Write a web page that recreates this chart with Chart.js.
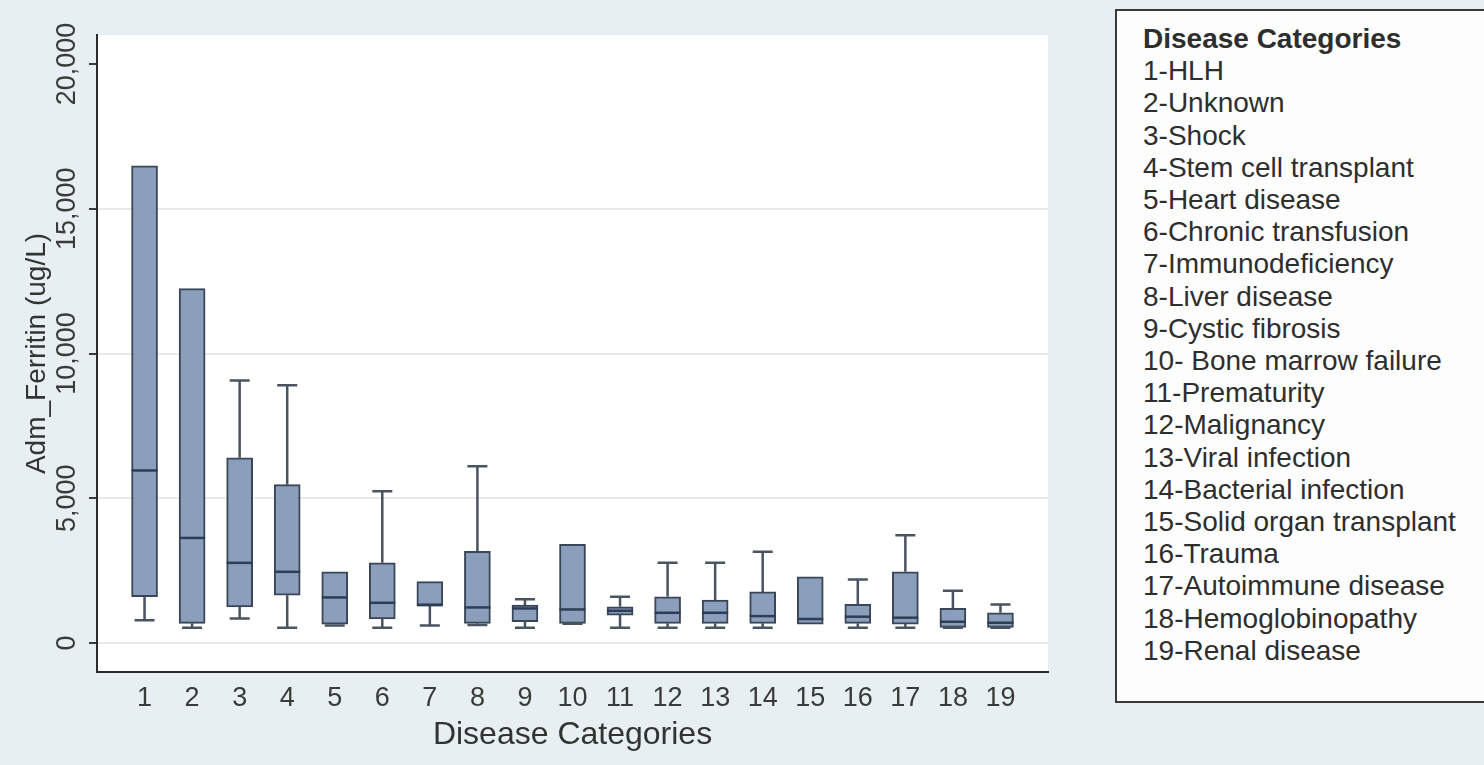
<!DOCTYPE html>
<html>
<head>
<meta charset="utf-8">
<script src="https://cdn.jsdelivr.net/npm/chart.js@4.4.1/dist/chart.umd.min.js"></script>
<style>
  html, body { margin: 0; padding: 0; width: 1484px; height: 765px; overflow: hidden; background: #e8eff2; font-family: "Liberation Sans", Arial, sans-serif; }
  #wrap { position: absolute; left: 0; top: 0; width: 1100px; height: 765px; }
  #legend { position: absolute; left: 1115px; top: 9px; width: 420px; height: 694px; box-sizing: border-box; border: 2px solid #3a3a3a; background: #fdfdfd; color: #2e2e2e; font-size: 28px; line-height: 32.2px; padding: 12px 0 0 26px; white-space: nowrap; }
  #legend .ttl { font-weight: bold; }
</style>
</head>
<body>
<div id="wrap"><canvas id="ferritinChart" width="1100" height="765"></canvas></div>
<div id="legend"></div>
<script>
// disease categories 1..19 and their names
const categories = [1, 2, 3, 4, 5, 6, 7, 8, 9, 10, 11, 12, 13, 14, 15, 16, 17, 18, 19];
const categoryNames = [
  '1-HLH', '2-Unknown', '3-Shock', '4-Stem cell transplant', '5-Heart disease',
  '6-Chronic transfusion', '7-Immunodeficiency', '8-Liver disease', '9-Cystic fibrosis',
  '10- Bone marrow failure', '11-Prematurity', '12-Malignancy', '13-Viral infection',
  '14-Bacterial infection', '15-Solid organ transplant', '16-Trauma',
  '17-Autoimmune disease', '18-Hemoglobinopathy', '19-Renal disease'
];

// admission ferritin (ug/L) box plot summaries
const lowerWhisker = [790, 530, 850, 530, 610, 530, 610, 620, 530, 670, 530, 530, 530, 530, 655, 530, 530, 530, 530];
const quartile1    = [1600, 680, 1250, 1655, 650, 830, 1310, 680, 740, 680, 965, 680, 680, 680, 655, 680, 655, 540, 540];
const medians      = [5960, 3630, 2770, 2460, 1575, 1390, 1310, 1230, 1195, 1160, 1115, 1045, 1045, 930, 830, 910, 875, 735, 700];
const quartile3    = [16480, 12240, 6400, 5470, 2460, 2770, 2120, 3170, 1310, 3410, 1250, 1600, 1485, 1765, 2290, 1340, 2460, 1195, 1045];
const upperWhisker = [16480, 12240, 9070, 8900, 2460, 5240, 2120, 6110, 1515, 3410, 1595, 2770, 2770, 3150, 2290, 2195, 3725, 1805, 1335];

const yTicks = [0, 5000, 10000, 15000, 20000];

const FONT = '"Liberation Sans", Arial, sans-serif';
Chart.defaults.font.family = FONT;

// legend list on the right
const legendEl = document.getElementById('legend');
legendEl.innerHTML = '<div class="ttl">Disease Categories</div>' +
  categoryNames.map(n => '<div>' + n + '</div>').join('');

// white plot region on the blue-grey graph region
const plotBg = {
  id: 'plotBg',
  beforeDraw(chart) {
    const { ctx, chartArea: a } = chart;
    ctx.save();
    ctx.fillStyle = '#ffffff';
    ctx.fillRect(a.left, a.top, a.right - a.left, a.bottom - a.top);
    ctx.restore();
  }
};

// whiskers, caps and median lines on top of the floating boxes
const boxPlot = {
  id: 'boxPlot',
  afterDatasetsDraw(chart) {
    const { ctx, scales: { x, y } } = chart;
    const meta = chart.getDatasetMeta(0);
    ctx.save();
    meta.data.forEach((bar, i) => {
      const cx = x.getPixelForValue(categories[i]);
      const half = bar.width / 2;
      const cap = 10;
      const yHi = y.getPixelForValue(upperWhisker[i]);
      const yQ3 = y.getPixelForValue(quartile3[i]);
      const yQ1 = y.getPixelForValue(quartile1[i]);
      const yLo = y.getPixelForValue(lowerWhisker[i]);
      const yMed = y.getPixelForValue(medians[i]);

      ctx.strokeStyle = '#4a5360';
      ctx.lineWidth = 2.5;
      if (upperWhisker[i] > quartile3[i]) {
        ctx.beginPath();
        ctx.moveTo(cx, yQ3); ctx.lineTo(cx, yHi);
        ctx.moveTo(cx - cap, yHi); ctx.lineTo(cx + cap, yHi);
        ctx.stroke();
      }
      if (lowerWhisker[i] < quartile1[i]) {
        ctx.beginPath();
        ctx.moveTo(cx, yQ1); ctx.lineTo(cx, yLo);
        ctx.moveTo(cx - cap, yLo); ctx.lineTo(cx + cap, yLo);
        ctx.stroke();
      }
      ctx.strokeStyle = '#2c3e56';
      ctx.lineWidth = 2.5;
      ctx.beginPath();
      ctx.moveTo(cx - half, yMed); ctx.lineTo(cx + half, yMed);
      ctx.stroke();
    });
    ctx.restore();
  }
};

// vertical tick labels on the y axis
const yLabels = {
  id: 'yLabels',
  afterDraw(chart) {
    const { ctx, scales: { y } } = chart;
    ctx.save();
    ctx.fillStyle = '#3a3a3a';
    ctx.font = '27px ' + FONT;
    ctx.textAlign = 'center';
    ctx.textBaseline = 'middle';
    y.ticks.forEach(t => {
      const py = y.getPixelForValue(t.value);
      ctx.save();
      ctx.translate(68, py);
      ctx.rotate(-Math.PI / 2);
      ctx.fillText(t.value.toLocaleString('en-US'), 0, 0);
      ctx.restore();
    });
    ctx.restore();
  }
};

const boxData = categories.map((c, i) => ({ x: c, y: [quartile1[i], quartile3[i]] }));

new Chart(document.getElementById('ferritinChart'), {
  type: 'bar',
  data: {
    datasets: [{
      label: 'Adm_Ferritin',
      data: boxData,
      backgroundColor: '#8b9ebb',
      borderColor: '#3a4658',
      borderWidth: 2,
      borderSkipped: false,
      barThickness: 26
    }]
  },
  options: {
    responsive: false,
    animation: false,
    layout: { padding: { top: 35, right: 52, left: 0, bottom: 0 } },
    plugins: {
      legend: { display: false },
      tooltip: { enabled: false }
    },
    scales: {
      x: {
        type: 'linear',
        offset: false,
        min: 0,
        max: 20,
        afterBuildTicks: s => { s.ticks = categories.map(v => ({ value: v })); },
        afterFit: s => { s.height = 93; },
        grid: { display: false, drawTicks: false },
        border: { color: '#2a2a2a', width: 2 },
        ticks: { color: '#3a3a3a', font: { size: 27 }, padding: 10, autoSkip: false, maxRotation: 0 },
        title: { display: true, text: 'Disease Categories', color: '#333', font: { size: 32 }, padding: { top: 0, bottom: 11 } }
      },
      y: {
        min: -1000,
        max: 21000,
        afterBuildTicks: s => { s.ticks = yTicks.map(v => ({ value: v })); },
        afterFit: s => { s.width = 97; },
        grid: {
          color: c => (c.tick && c.tick.value === 20000 ? 'rgba(0,0,0,0)' : '#e7eaeb'),
          lineWidth: 2,
          tickColor: '#3a3a3a',
          tickLength: 8
        },
        border: { color: '#2a2a2a', width: 2 },
        ticks: { display: false },
        title: { display: true, text: 'Adm_Ferritin (ug/L)', color: '#333', font: { size: 28 }, padding: { top: 20, bottom: 0 } }
      }
    }
  },
  plugins: [plotBg, boxPlot, yLabels]
});
</script>
</body>
</html>
